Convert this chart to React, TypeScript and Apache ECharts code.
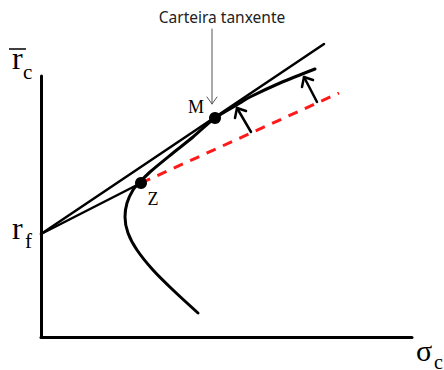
import React, { useEffect, useRef } from "react";
import * as echarts from "echarts";

// Coordinates are in axis units (origin at the axes' corner)
const rf: [number, number] = [0, 103];
const tangentEnd: [number, number] = [283, 293];
const portZ: [number, number] = [100, 154];
const portM: [number, number] = [174, 219];
const dashedEnd: [number, number] = [298, 244];
const frontier: [number, number][] = [
  [157, 24], [132, 47], [112, 67], [96, 87], [87, 104], [84, 120], [86, 134],
  [92, 147], [99, 155], [109, 165], [132, 184], [152, 200], [174, 219],
  [199, 234], [209, 240], [239, 254], [274, 268],
];
const arrow1Shaft: [number, number][] = [[210, 205], [196, 229]];
const arrow1Head: [number, number][] = [[194, 219], [196, 229], [205, 226]];
const arrow2Shaft: [number, number][] = [[276, 235], [263, 260]];
const arrow2Head: [number, number][] = [[261, 250], [263, 260], [272, 257]];
const noteShaft: [number, number][] = [[171, 308], [171, 233]];
const noteHead: [number, number][] = [[166, 240], [171, 233], [176, 240]];
const xMax = 371;
const yMax = 261;

function lineSeries(data: [number, number][], color: string, width: number, extra: any = {}) {
  return {
    type: "line",
    data,
    showSymbol: false,
    symbol: "none",
    clip: false,
    silent: true,
    lineStyle: { color, width, cap: "round", join: "round", ...extra },
  };
}

export default function App() {
  const ref = useRef<HTMLDivElement>(null);
  useEffect(() => {
    document.body.style.margin = "0";
    const chart = echarts.init(ref.current!, null, { renderer: "svg" });
    const axisCommon = {
      type: "value",
      axisLine: { show: true, onZero: false, lineStyle: { color: "#000", width: 3 } },
      axisTick: { show: false },
      axisLabel: { show: false },
      splitLine: { show: false },
    };
    chart.setOption({
      animation: false,
      backgroundColor: "#fff",
      grid: { left: 41, right: 32, top: 76, bottom: 33 },
      xAxis: { ...axisCommon, min: 0, max: xMax },
      yAxis: { ...axisCommon, min: 0, max: yMax },
      series: [
        lineSeries([rf, tangentEnd], "#000", 2.5),
        lineSeries([rf, portZ], "#000", 2.5),
        lineSeries([portZ, dashedEnd], "#ff1a1a", 3, { type: [10, 8], cap: "butt" }),
        { ...lineSeries(frontier, "#000", 3), smooth: 0.3 },
        lineSeries(arrow1Shaft, "#000", 2.5),
        lineSeries(arrow1Head, "#000", 2.5),
        lineSeries(arrow2Shaft, "#000", 2.5),
        lineSeries(arrow2Head, "#000", 2.5),
        lineSeries(noteShaft, "#555", 1),
        lineSeries(noteHead, "#555", 1),
        {
          type: "scatter",
          symbolSize: 12,
          itemStyle: { color: "#000", opacity: 1 },
          clip: false,
          silent: true,
          z: 5,
          data: [
            { value: portM, label: { show: true, formatter: "M", position: "inside", offset: [-19, -11] } },
            { value: portZ, label: { show: true, formatter: "Z", position: "inside", offset: [12, 16] } },
          ],
          label: {
            color: "#000",
            fontFamily: "Liberation Serif",
            fontSize: 18,
          },
        },
      ],
      graphic: [
        {
          type: "text",
          x: 222,
          y: 17,
          style: {
            text: "Carteira tanxente",
            align: "center",
            verticalAlign: "middle",
            fontFamily: "Noto Sans",
            fontSize: 15.5,
            fill: "#222",
          },
        },
        { type: "text", x: 12, y: 58, style: { text: "r", verticalAlign: "middle", fontFamily: "Liberation Serif", fontSize: 32, fill: "#000" } },
        { type: "line", shape: { x1: 9, y1: 49, x2: 26, y2: 49 }, style: { stroke: "#000", lineWidth: 1.5 } },
        { type: "text", x: 23, y: 72, style: { text: "c", verticalAlign: "middle", fontFamily: "Liberation Serif", fontSize: 21, fill: "#000" } },
        { type: "text", x: 12, y: 228, style: { text: "r", verticalAlign: "middle", fontFamily: "Liberation Serif", fontSize: 32, fill: "#000" } },
        { type: "text", x: 25, y: 241, style: { text: "f", verticalAlign: "middle", fontFamily: "Liberation Serif", fontSize: 21, fill: "#000" } },
        { type: "text", x: 416, y: 350, style: { text: "σ", verticalAlign: "middle", fontFamily: "Liberation Serif", fontSize: 30, fill: "#000" } },
        { type: "text", x: 434, y: 362, style: { text: "c", verticalAlign: "middle", fontFamily: "Liberation Serif", fontSize: 20, fill: "#000" } },
      ],
    });
    return () => chart.dispose();
  }, []);
  return <div ref={ref} style={{ width: 444, height: 370 }} />;
}
